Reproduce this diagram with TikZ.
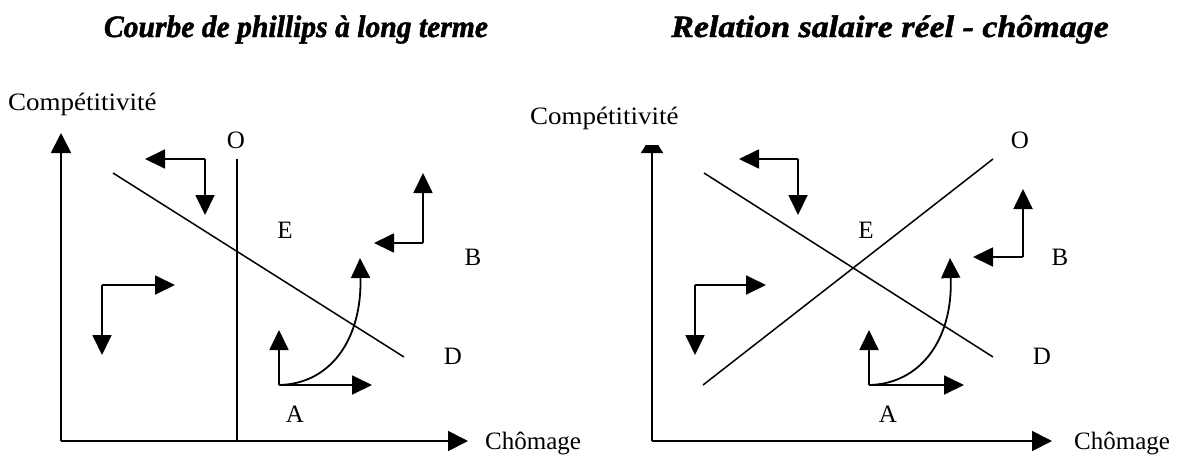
\documentclass[tikz,border=0pt]{standalone}
\usepackage{fontspec}
\setmainfont{Liberation Serif}
\newfontfamily\ttlfontL[FakeBold=1.6,FakeStretch=0.955]{Liberation Serif Bold Italic}
\newfontfamily\ttlfontR[FakeBold=1.6,FakeStretch=1.095]{Liberation Serif Bold Italic}
\newfontfamily\wideserif[FakeStretch=1.08]{Liberation Serif}
\usetikzlibrary{arrows.meta}
\begin{document}
\begin{tikzpicture}[x=1pt,y=-1pt,
 lbl/.style={font=\fontsize{25}{29}\selectfont, inner sep=0pt},
 axlbl/.style={font=\wideserif\fontsize{25}{29}\selectfont, inner sep=0pt, anchor=base west},
 ttl/.style={inner sep=0pt, anchor=base},
 ax/.style={line width=1.8pt, -{Triangle[length=20pt,width=20pt]}},
 ln/.style={line width=1.5pt},
 arr/.style={line width=1.8pt, -{Triangle[length=20pt,width=19pt]}},
]
\useasboundingbox (0,0) rectangle (1190,455);
% titles
\node[ttl, font=\ttlfontL\fontsize{31}{36}\selectfont] (t1) at (296,37) {Courbe de phillips à long terme};
\node[ttl, font=\ttlfontR\fontsize{31}{36}\selectfont] (t2) at (890,37) {Relation salaire réel - chômage};
% ---------- left panel ----------
\coordinate (L0) at (61,441);
\coordinate (Ly) at (61,133);
\coordinate (Lx) at (468,441);
\draw[ax] (L0) -- (Ly);
\draw[ax] (L0) -- (Lx);
\node[axlbl] (Lcomp) at (8,110) {Compétitivité};
\node[lbl, anchor=base west] (Lcho) at (485,449) {Chômage};
\coordinate (LOt) at (237,159);
\coordinate (LOb) at (237,441);
\draw[ln] (LOt) -- (LOb);
\coordinate (LDa) at (113,173);
\coordinate (LDb) at (404,357);
\draw[ln] (LDa) -- (LDb);
\node[lbl] (LO) at (236,140) {O};
\node[lbl] (LE) at (285,230) {E};
\node[lbl] (LB) at (473,257) {B};
\node[lbl] (LD) at (453,356) {D};
\node[lbl] (LA) at (295,414) {A};
% arrows
\coordinate (L1c) at (205,159);
\coordinate (L1a) at (145,159);
\coordinate (L1b) at (205,215);
\draw[arr] (L1c) -- (L1a);
\draw[arr] (L1c) -- (L1b);
\coordinate (L2c) at (102,285);
\coordinate (L2a) at (175,285);
\coordinate (L2b) at (102,355);
\draw[arr] (L2c) -- (L2a);
\draw[arr] (L2c) -- (L2b);
\coordinate (L3c) at (423,243);
\coordinate (L3a) at (423,173);
\coordinate (L3b) at (374,243);
\draw[arr] (L3c) -- (L3a);
\draw[arr] (L3c) -- (L3b);
\coordinate (L4c) at (279,385);
\coordinate (L4a) at (279,330);
\coordinate (L4b) at (372,385);
\coordinate (L4d) at (360,258);
\draw[arr] (L4c) -- (L4a);
\draw[arr] (L4c) -- (L4b);
\draw[arr] (L4c) .. controls (330,384) and (362,340) .. (L4d);
% ---------- right panel ----------
\coordinate (R0) at (652,441);
\coordinate (Ry) at (652,135);
\coordinate (Rx) at (1052,441);
\begin{scope}
\clip (600,145) rectangle (700,450);
\draw[line width=1.8pt, -{Triangle[length=18pt,width=22pt]}] (R0) -- (Ry);
\end{scope}
\draw[ax] (R0) -- (Rx);
\node[axlbl] (Rcomp) at (530,124) {Compétitivité};
\node[lbl, anchor=base west] (Rcho) at (1074,449) {Chômage};
\coordinate (ROa) at (703,385);
\coordinate (ROb) at (993,159);
\draw[ln] (ROa) -- (ROb);
\coordinate (RDa) at (704,173);
\coordinate (RDb) at (993,357);
\draw[ln] (RDa) -- (RDb);
\node[lbl] (RO) at (1020,140) {O};
\node[lbl] (RE) at (866,230) {E};
\node[lbl] (RB) at (1060,257) {B};
\node[lbl] (RD) at (1042,356) {D};
\node[lbl] (RA) at (888,414) {A};
\coordinate (R1c) at (798,159);
\coordinate (R1a) at (739,159);
\coordinate (R1b) at (798,215);
\draw[arr] (R1c) -- (R1a);
\draw[arr] (R1c) -- (R1b);
\coordinate (R2c) at (695,285);
\coordinate (R2a) at (766,285);
\coordinate (R2b) at (695,355);
\draw[arr] (R2c) -- (R2a);
\draw[arr] (R2c) -- (R2b);
\coordinate (R3c) at (1023,257);
\coordinate (R3a) at (1023,189);
\coordinate (R3b) at (973,257);
\draw[arr] (R3c) -- (R3a);
\draw[arr] (R3c) -- (R3b);
\coordinate (R4c) at (869,385);
\coordinate (R4a) at (869,330);
\coordinate (R4b) at (964,385);
\coordinate (R4d) at (950,258);
\draw[arr] (R4c) -- (R4a);
\draw[arr] (R4c) -- (R4b);
\draw[arr] (R4c) .. controls (920,384) and (953,340) .. (R4d);
\end{tikzpicture}
\end{document}
